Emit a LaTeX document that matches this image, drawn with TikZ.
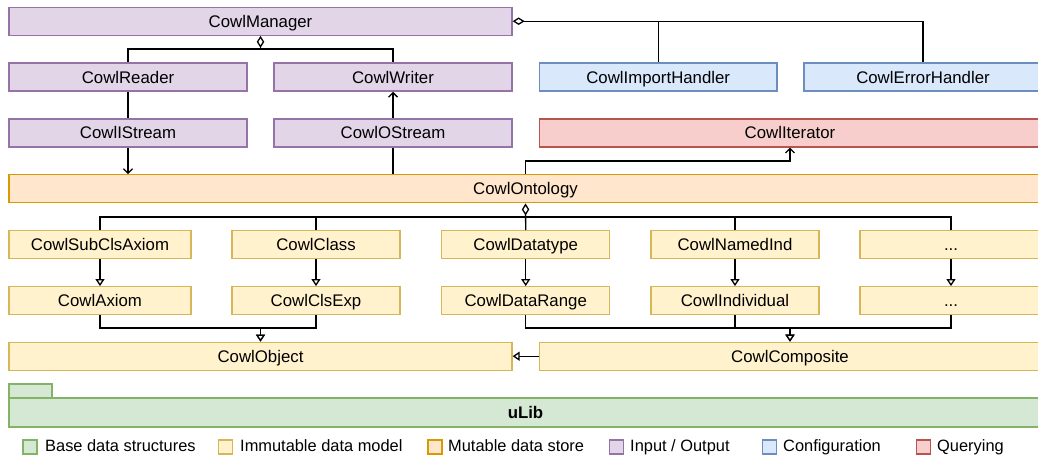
\documentclass[tikz,border=0pt]{standalone}
\usepackage{fontspec}
\setmainfont{Liberation Sans}
\usetikzlibrary{arrows.meta}

% draw.io style palette
\definecolor{grnF}{HTML}{D5E8D4}\definecolor{grnD}{HTML}{82B366}
\definecolor{ylwF}{HTML}{FFF2CC}\definecolor{ylwD}{HTML}{D6B656}
\definecolor{orgF}{HTML}{FFE6CC}\definecolor{orgD}{HTML}{D79B00}
\definecolor{prpF}{HTML}{E1D5E7}\definecolor{prpD}{HTML}{9673A6}
\definecolor{bluF}{HTML}{DAE8FC}\definecolor{bluD}{HTML}{6C8EBF}
\definecolor{redF}{HTML}{F8CECC}\definecolor{redD}{HTML}{B85450}

\begin{document}
\begin{tikzpicture}[x=1pt,y=-1pt,
  box/.style={draw, line width=1.3pt, inner sep=0pt, minimum height=28pt,
    text height=12pt, text depth=0pt, font=\fontsize{16.8}{20}\selectfont},
  iobox/.style={box, fill=prpF, draw=prpD},
  cfgbox/.style={box, fill=bluF, draw=bluD},
  qrybox/.style={box, fill=redF, draw=redD},
  mutbox/.style={box, fill=orgF, draw=orgD},
  immbox/.style={box, fill=ylwF, draw=ylwD},
  basebox/.style={box, fill=grnF, draw=grnD},
  wire/.style={line width=1.3pt, black},
  aggr/.style={wire, {Diamond[open, length=12pt, width=7.5pt]}-},
  usearrow/.style={wire, -{Straight Barb[length=4.5pt, width=9pt]}},
  genarrow/.style={wire, -{Triangle[open, fill=white, length=7pt, width=9pt]}},
  legsq/.style={draw, line width=1.3pt, minimum size=14pt, inner sep=0pt},
  legtxt/.style={anchor=base west, inner sep=0pt, font=\fontsize{16.4}{20}\selectfont}
]
\useasboundingbox (0,0) rectangle (1038,460);
\clip (0,0) rectangle (1038,460);

% --- input / output, configuration, querying ---
\node[iobox, minimum width=503pt] (man) at (260.5,21.2) {CowlManager};
\node[iobox, minimum width=238pt] (rd) at (128,77.1) {CowlReader};
\node[iobox, minimum width=238pt] (wr) at (393,77.1) {CowlWriter};
\node[cfgbox, minimum width=237.5pt] (imp) at (658.2,77.1) {CowlImportHandler};
\node[cfgbox, minimum width=238pt] (err) at (923,77.1) {CowlErrorHandler};
\node[iobox, minimum width=238pt] (is) at (128,132.9) {CowlIStream};
\node[iobox, minimum width=238pt] (os) at (393,132.9) {CowlOStream};
\node[qrybox, minimum width=501pt] (it) at (790,132.9) {CowlIterator};

% --- mutable store ---
\node[mutbox, minimum width=1033pt] (ont) at (525.5,188.8) {CowlOntology};

% --- immutable data model ---
\node[immbox, minimum width=182pt] (sc) at (100,244.8) {CowlSubClsAxiom};
\node[immbox, minimum width=168pt] (cl) at (316,244.8) {CowlClass};
\node[immbox, minimum width=168pt] (dt) at (525.7,244.8) {CowlDatatype};
\node[immbox, minimum width=168pt] (ni) at (735,244.8) {CowlNamedInd};
\node[immbox, minimum width=182pt] (d1) at (951,244.8) {...};
\node[immbox, minimum width=182pt] (ax) at (100,300.7) {CowlAxiom};
\node[immbox, minimum width=168pt] (ce) at (316,300.7) {CowlClsExp};
\node[immbox, minimum width=168pt] (dr) at (525.7,300.7) {CowlDataRange};
\node[immbox, minimum width=168pt] (in) at (735,300.7) {CowlIndividual};
\node[immbox, minimum width=182pt] (d2) at (951,300.7) {...};
\node[immbox, minimum width=503pt] (obj) at (260.5,356.2) {CowlObject};
\node[immbox, minimum width=501pt] (cmp) at (790,356.2) {CowlComposite};

% --- base library (folder shape) ---
\node[basebox, minimum width=43pt, minimum height=14pt] (tab) at (30.5,391) {};
\node[basebox, minimum width=1033pt, minimum height=29pt, font=\fontsize{16.8}{20}\selectfont\bfseries] (ulib) at (525.5,412.5) {uLib};

% --- junction points ---
\coordinate (jm) at (260.5,49);
\coordinate (ji) at (525.5,161);
\coordinate (jo) at (525.5,217);
\coordinate (bus) at (0,328);

% manager aggregation
\draw[aggr] (man.south) -- (jm) -| (rd.north);
\draw[wire] (jm) -| (wr.north);
\draw[aggr] (man.east) -| (err.north);
\draw[wire] (imp.north) -- (imp.north |- man.east);

% streams
\draw[wire] (rd.south) -- (is.north);
\draw[usearrow] (is.south) -- (is.south |- ont.north);
\draw[wire] (os.south |- ont.north) -- (os.south);
\draw[usearrow] (os.north) -- (wr.south);
\draw[usearrow] (ont.north) -- (ji) -| (it.south);

% ontology aggregation
\draw[aggr] (ont.south) -- (dt.north);
\draw[wire] (jo) -| (sc.north);
\draw[wire] (jo) -| (cl.north);
\draw[wire] (jo) -| (ni.north);
\draw[wire] (jo) -| (d1.north);

% generalisations
\draw[genarrow] (sc.south) -- (ax.north);
\draw[genarrow] (cl.south) -- (ce.north);
\draw[genarrow] (dt.south) -- (dr.north);
\draw[genarrow] (ni.south) -- (in.north);
\draw[genarrow] (d1.south) -- (d2.north);
\draw[genarrow] (ax.south) -- (ax.south |- bus) -| (obj.north);
\draw[genarrow] (ce.south) -- (ce.south |- bus) -| (obj.north);
\draw[genarrow] (dr.south) -- (dr.south |- bus) -| (cmp.north);
\draw[genarrow] (in.south) -- (in.south |- bus) -| (cmp.north);
\draw[genarrow] (d2.south) -- (d2.south |- bus) -| (cmp.north);
\draw[genarrow] (cmp.west) -- (obj.east);

% legend
\node[legsq, fill=grnF, draw=grnD] (l1) at (30,447) {};
\node[legtxt] (t1) at (45,451.9) {Base data structures};
\node[legsq, fill=ylwF, draw=ylwD] (l2) at (225.5,447) {};
\node[legtxt] (t2) at (240,451.9) {Immutable data model};
\node[legsq, fill=orgF, draw=orgD] (l3) at (435,447) {};
\node[legtxt] (t3) at (448,451.9) {Mutable data store};
\node[legsq, fill=prpF, draw=prpD] (l4) at (616.5,447) {};
\node[legtxt] (t4) at (630,451.9) {Input / Output};
\node[legsq, fill=bluF, draw=bluD] (l5) at (769.5,447) {};
\node[legtxt] (t5) at (783,451.9) {Configuration};
\node[legsq, fill=redF, draw=redD] (l6) at (923.5,447) {};
\node[legtxt] (t6) at (937,451.9) {Querying};
\end{tikzpicture}
\end{document}
